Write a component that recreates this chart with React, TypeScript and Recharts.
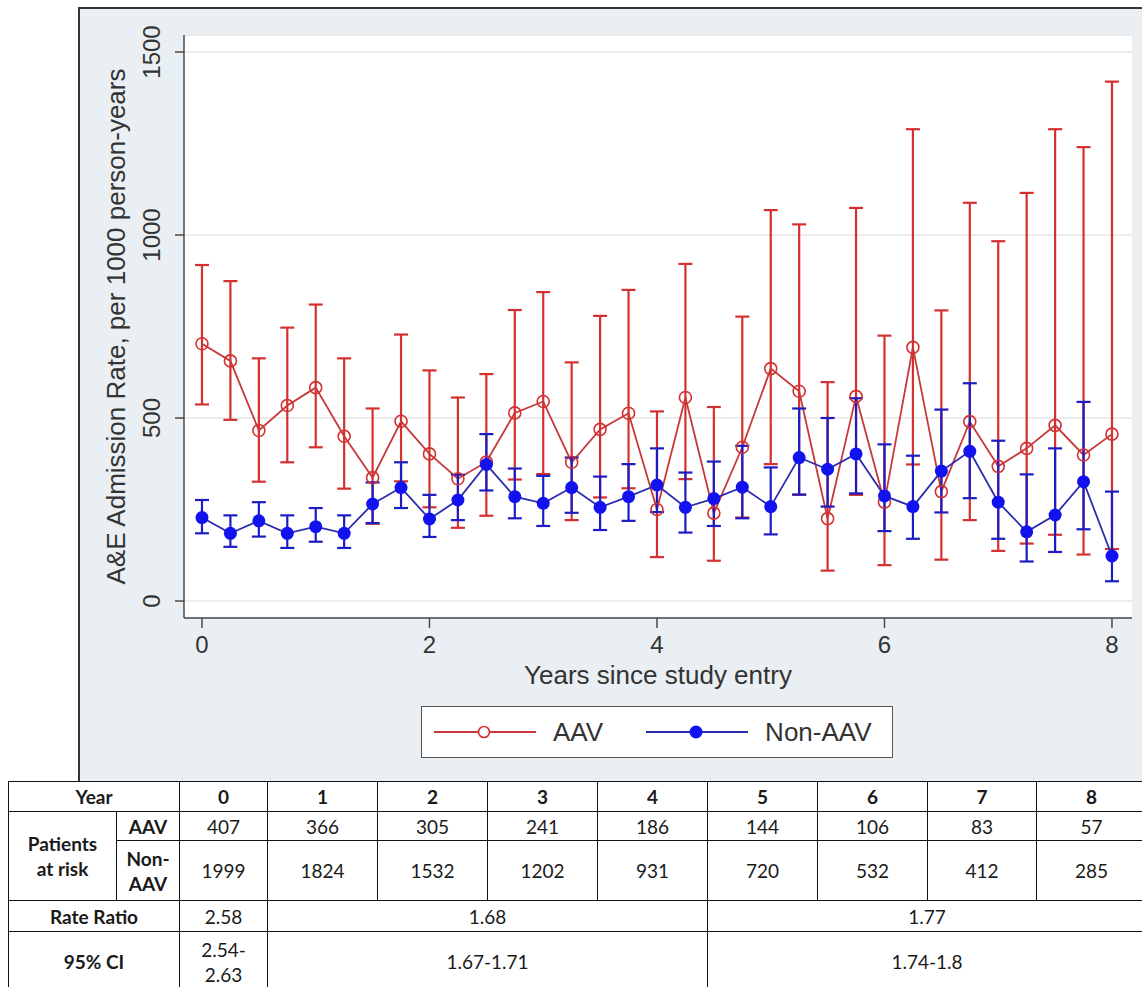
import React from 'react';
import {
  ComposedChart,
  Line,
  XAxis,
  YAxis,
  CartesianGrid,
  ErrorBar,
  Legend,
  Label,
} from 'recharts';

// Follow-up time points (years since study entry), quarterly
const years = [
  0, 0.25, 0.5, 0.75, 1, 1.25, 1.5, 1.75, 2, 2.25, 2.5, 2.75, 3, 3.25, 3.5, 3.75,
  4, 4.25, 4.5, 4.75, 5, 5.25, 5.5, 5.75, 6, 6.25, 6.5, 6.75, 7, 7.25, 7.5, 7.75, 8,
];

// AAV: A&E admission rate per 1000 person-years with 95% CI
const aavRate = [
  703, 656, 466, 534, 583, 450, 337, 491, 402, 334, 380, 514, 545, 379, 469, 513,
  250, 556, 240, 420, 635, 573, 225, 559, 270, 693, 299, 490, 368, 417, 480, 399, 456,
];
const aavLower = [
  537, 495, 326, 379, 420, 307, 211, 327, 256, 200, 233, 332, 347, 221, 283, 308,
  120, 333, 110, 228, 374, 290, 83, 290, 98, 373, 113, 221, 137, 157, 181, 127, 142,
];
const aavUpper = [
  918, 874, 663, 747, 810, 663, 526, 728, 630, 556, 620, 795, 844, 652, 779, 850,
  518, 921, 530, 777, 1068, 1029, 598, 1074, 725, 1289, 794, 1088, 983, 1115, 1289, 1240, 1419,
];

// Non-AAV: A&E admission rate per 1000 person-years with 95% CI
const nonAavRate = [
  228, 185, 219, 185, 203, 185, 265, 310, 224, 276, 373, 285, 267, 310, 256, 285,
  317, 256, 280, 311, 258, 392, 360, 402, 287, 258, 355, 409, 270, 189, 235, 326, 123,
];
const nonAavLower = [
  185, 148, 176, 145, 162, 145, 213, 254, 175, 221, 302, 226, 205, 241, 194, 219,
  243, 187, 205, 226, 182, 291, 258, 294, 191, 170, 242, 281, 170, 108, 134, 196, 54,
];
const nonAavUpper = [
  276, 234, 270, 234, 254, 234, 324, 379, 290, 345, 456, 362, 342, 392, 340, 374,
  417, 351, 381, 424, 365, 526, 500, 554, 428, 397, 523, 595, 438, 346, 417, 544, 299,
];

const yTicks = [0, 500, 1000, 1500];
const xTicks = [0, 2, 4, 6, 8];

// Table underneath the chart
const tableYears = ['0', '1', '2', '3', '4', '5', '6', '7', '8'];
const aavAtRisk = [407, 366, 305, 241, 186, 144, 106, 83, 57];
const nonAavAtRisk = [1999, 1824, 1532, 1202, 931, 720, 532, 412, 285];
const rateRatios = ['2.58', '1.68', '1.77'];
const ciRanges = ['2.54-\n2.63', '1.67-1.71', '1.74-1.8'];
const periodSpans = [1, 4, 4];

const data = years.map((year, i) => ({
  year,
  aav: aavRate[i],
  aavErr: [aavRate[i] - aavLower[i], aavUpper[i] - aavRate[i]],
  nonAav: nonAavRate[i],
  nonAavErr: [nonAavRate[i] - nonAavLower[i], nonAavUpper[i] - nonAavRate[i]],
}));

const RED = '#d43030';
const RED_LINE = '#c83838';
const BLUE = '#1212ee';
const BLUE_LINE = '#2c2cae';
const BLUE_BAR = '#1c1cc4';
const FONT = '"Liberation Sans", Arial, Helvetica, sans-serif';
const TABLE_FONT = 'Lato, "Open Sans", sans-serif';
const AXIS_COLOR = '#4a4a4a';

const YTick = (props: any) => {
  const { y, payload } = props;
  const bx = 160;
  return (
    <text
      x={bx}
      y={y}
      transform={`rotate(-90 ${bx} ${y})`}
      textAnchor="middle"
      fontFamily={FONT}
      fontSize={24}
      fill="#333"
    >
      {payload.value}
    </text>
  );
};

const XTick = (props: any) => {
  const { x, payload } = props;
  return (
    <text x={x} y={653} textAnchor="middle" fontFamily={FONT} fontSize={24} fill="#333">
      {payload.value}
    </text>
  );
};

const HollowDot = (props: any) => {
  const { cx, cy, index } = props;
  if (cx == null || cy == null) return <g key={`a-${index}`} />;
  return <circle key={`a-${index}`} cx={cx} cy={cy} r={6} fill="none" stroke={RED} strokeWidth={1.6} />;
};

const SolidDot = (props: any) => {
  const { cx, cy, index } = props;
  if (cx == null || cy == null) return <g key={`n-${index}`} />;
  return <circle key={`n-${index}`} cx={cx} cy={cy} r={6.5} fill={BLUE} stroke="none" />;
};

const LegendContent = (props: any) => {
  const { payload = [] } = props;
  return (
    <div
      style={{
        width: 472,
        height: 52,
        boxSizing: 'border-box',
        border: '1.5px solid #555',
        background: '#fff',
        display: 'flex',
        alignItems: 'center',
        fontFamily: FONT,
        fontSize: 26,
        color: '#333',
      }}
    >
      {payload.map((entry: any, i: number) => {
        const hollow = entry.dataKey === 'aav';
        return (
          <div key={entry.value} style={{ display: 'flex', alignItems: 'center', marginLeft: i === 0 ? 11 : 42 }}>
            <svg width={104} height={20} style={{ display: 'block' }}>
              <line x1={1} y1={10} x2={103} y2={10} stroke={entry.color} strokeWidth={2} />
              {hollow ? (
                <circle cx={51} cy={10} r={5.5} fill="#fff" stroke={RED} strokeWidth={1.6} />
              ) : (
                <circle cx={51} cy={10} r={6.5} fill={BLUE} />
              )}
            </svg>
            <span style={{ marginLeft: 16 }}>{entry.value}</span>
          </div>
        );
      })}
    </div>
  );
};

const cellBorder = '1.5px solid #111';
const td = (extra: React.CSSProperties = {}): React.CSSProperties => ({
  border: cellBorder,
  textAlign: 'center',
  verticalAlign: 'middle',
  padding: 0,
  lineHeight: '25px',
  ...extra,
});

const RiskTable = () => {
  const colWidths = [108, 63, 88, 110, 110, 110, 110, 110, 110, 109, 110];
  return (
    <table
      style={{
        position: 'absolute',
        left: 8,
        top: 781,
        width: 1138,
        borderCollapse: 'collapse',
        tableLayout: 'fixed',
        background: '#fff',
        fontFamily: TABLE_FONT,
        fontSize: 19,
        color: '#1a1a1a',
      }}
    >
      <colgroup>
        {colWidths.map((w, i) => (
          <col key={i} style={{ width: w }} />
        ))}
      </colgroup>
      <tbody>
        <tr style={{ height: 30 }}>
          <td colSpan={2} style={td({ fontWeight: 700 })}>Year</td>
          {tableYears.map((y) => (
            <td key={y} style={td({ fontWeight: 700 })}>{y}</td>
          ))}
        </tr>
        <tr style={{ height: 29 }}>
          <td rowSpan={2} style={td({ fontWeight: 700 })}>
            Patients
            <br />
            at risk
          </td>
          <td style={td({ fontWeight: 700 })}>AAV</td>
          {aavAtRisk.map((v, i) => (
            <td key={i} style={td()}>{v}</td>
          ))}
        </tr>
        <tr style={{ height: 60 }}>
          <td style={td({ fontWeight: 700 })}>
            Non-
            <br />
            AAV
          </td>
          {nonAavAtRisk.map((v, i) => (
            <td key={i} style={td()}>{v}</td>
          ))}
        </tr>
        <tr style={{ height: 31 }}>
          <td colSpan={2} style={td({ fontWeight: 700 })}>Rate Ratio</td>
          {rateRatios.map((v, i) => (
            <td key={i} colSpan={periodSpans[i]} style={td()}>{v}</td>
          ))}
        </tr>
        <tr style={{ height: 64 }}>
          <td colSpan={2} style={td({ fontWeight: 700, paddingBottom: 4 })}>95% CI</td>
          {ciRanges.map((v, i) => (
            <td key={i} colSpan={periodSpans[i]} style={td({ whiteSpace: 'pre-line', paddingBottom: 4 })}>{v}</td>
          ))}
        </tr>
      </tbody>
    </table>
  );
};

export default function App() {
  return (
    <div style={{ position: 'absolute', left: 0, top: 0, width: 1142, height: 987, overflow: 'hidden', background: '#fff' }}>
      {/* graph region backdrop */}
      <div
        style={{
          position: 'absolute',
          left: 78,
          top: 7,
          width: 1070,
          height: 780,
          background: '#e9eff2',
          borderLeft: '2px solid #333',
          borderTop: '2px solid #333',
          boxSizing: 'border-box',
        }}
      />
      <div style={{ position: 'absolute', left: 0, top: 0 }}>
        <ComposedChart
          width={1142}
          height={781}
          data={data}
          margin={{ top: 35, right: 10, left: 84, bottom: 123 }}
        >
          <CartesianGrid vertical={false} stroke="#e6e6e6" strokeWidth={1.5} fill="#ffffff" />
          <XAxis
            type="number"
            dataKey="year"
            domain={[-0.158, 8.176]}
            ticks={xTicks}
            allowDataOverflow
            height={40}
            tickSize={10}
            tick={<XTick />}
            axisLine={{ stroke: AXIS_COLOR, strokeWidth: 1.5 }}
            tickLine={{ stroke: AXIS_COLOR, strokeWidth: 1.5 }}
          >
            <Label
              content={(p: any) => {
                const vb = p.viewBox || {};
                return (
                  <text
                    x={vb.x + vb.width / 2}
                    y={684}
                    textAnchor="middle"
                    fontFamily={FONT}
                    fontSize={26}
                    fill="#333"
                  >
                    Years since study entry
                  </text>
                );
              }}
            />
          </XAxis>
          <YAxis
            type="number"
            domain={[-46.4, 1546.4]}
            ticks={yTicks}
            allowDataOverflow
            width={100}
            tickSize={9}
            tick={<YTick />}
            axisLine={{ stroke: AXIS_COLOR, strokeWidth: 1.5 }}
            tickLine={{ stroke: AXIS_COLOR, strokeWidth: 1.5 }}
          >
            <Label
              content={(p: any) => {
                const vb = p.viewBox || {};
                const cy = vb.y + vb.height / 2;
                const bx = 125;
                return (
                  <text
                    x={bx}
                    y={cy}
                    transform={`rotate(-90 ${bx} ${cy})`}
                    textAnchor="middle"
                    fontFamily={FONT}
                    fontSize={26}
                    fill="#333"
                  >
                    A&amp;E Admission Rate, per 1000 person-years
                  </text>
                );
              }}
            />
          </YAxis>
          <Line
            type="linear"
            dataKey="aav"
            name="AAV"
            stroke={RED_LINE}
            strokeWidth={1.8}
            dot={HollowDot}
            activeDot={false}
            isAnimationActive={false}
          >
            <ErrorBar dataKey="aavErr" direction="y" width={7} stroke={RED} strokeWidth={2.2} />
          </Line>
          <Line
            type="linear"
            dataKey="nonAav"
            name="Non-AAV"
            stroke={BLUE_LINE}
            strokeWidth={1.8}
            dot={SolidDot}
            activeDot={false}
            isAnimationActive={false}
          >
            <ErrorBar dataKey="nonAavErr" direction="y" width={7} stroke={BLUE_BAR} strokeWidth={2.2} />
          </Line>
          <Legend
            layout="horizontal"
            verticalAlign="middle"
            align="center"
            content={<LegendContent />}
            wrapperStyle={{ left: 421, top: 706, width: 472, height: 52 }}
          />
        </ComposedChart>
      </div>
      <RiskTable />
    </div>
  );
}
